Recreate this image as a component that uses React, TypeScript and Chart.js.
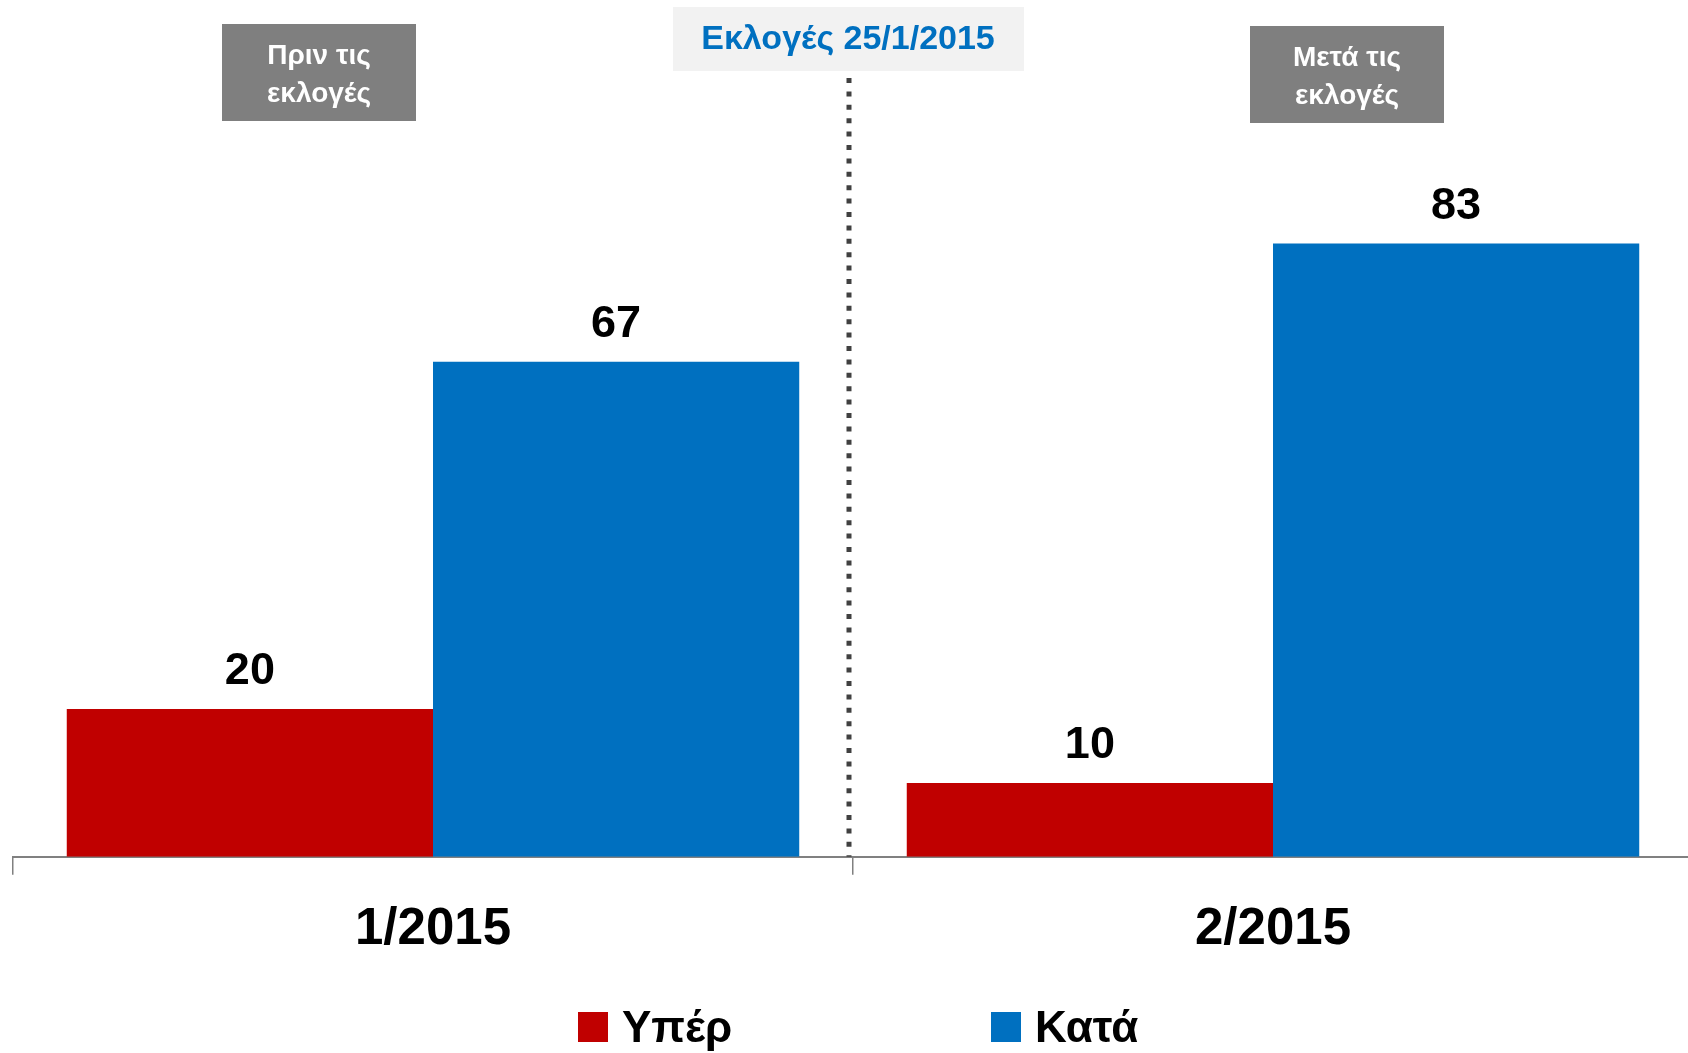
import React, { useEffect, useRef } from "react";
import { Chart, registerables } from "chart.js";

Chart.register(...registerables);

const categories = ["1/2015", "2/2015"];
const seriesNames = ["Υπέρ", "Κατά"];
const forValues = [20, 10];
const againstValues = [67, 83];
const seriesColors = ["#C00000", "#0070C0"];
const electionLabel = "Εκλογές 25/1/2015";
const beforeLabel = ["Πριν τις", "εκλογές"];
const afterLabel = ["Μετά τις", "εκλογές"];

const FONT = "'Liberation Sans', Arial, sans-serif";

const overlayPlugin = {
  id: "overlay",
  afterDatasetsDraw(chart: any) {
    const ctx = chart.ctx as CanvasRenderingContext2D;
    ctx.save();

    // value labels above bars
    ctx.font = `bold 45px ${FONT}`;
    ctx.fillStyle = "#000";
    ctx.textAlign = "center";
    ctx.textBaseline = "alphabetic";
    chart.data.datasets.forEach((ds: any, i: number) => {
      chart.getDatasetMeta(i).data.forEach((bar: any, j: number) => {
        ctx.fillText(String(ds.data[j]), bar.x, bar.y - 25);
      });
    });

    // dotted separator
    const xs = chart.scales.x;
    const sep = (xs.getPixelForValue(0) + xs.getPixelForValue(1)) / 2 - 4;
    ctx.strokeStyle = "#404040";
    ctx.lineWidth = 5;
    ctx.setLineDash([5, 8.4]);
    ctx.beginPath();
    ctx.moveTo(sep, 78);
    ctx.lineTo(sep, chart.chartArea.bottom);
    ctx.stroke();
    ctx.setLineDash([]);

    // election box
    ctx.fillStyle = "#F2F2F2";
    ctx.fillRect(673, 7, 351, 64);
    ctx.fillStyle = "#0070C0";
    ctx.font = `bold 34px ${FONT}`;
    ctx.textBaseline = "middle";
    ctx.fillText(electionLabel, 848, 40);

    // before / after boxes
    const drawBox = (x: number, y: number, lines: string[]) => {
      ctx.fillStyle = "#7F7F7F";
      ctx.fillRect(x, y, 194, 97);
      ctx.fillStyle = "#FFFFFF";
      ctx.font = `bold 28px ${FONT}`;
      ctx.textBaseline = "middle";
      ctx.fillText(lines[0], x + 97, y + 32);
      ctx.fillText(lines[1], x + 97, y + 70);
    };
    drawBox(222, 24, beforeLabel);
    drawBox(1250, 26, afterLabel);

    // legend
    ctx.textAlign = "left";
    ctx.textBaseline = "alphabetic";
    ctx.font = `bold 44px ${FONT}`;
    const legendX = [578, 991];
    seriesNames.forEach((name, i) => {
      ctx.fillStyle = seriesColors[i];
      ctx.fillRect(legendX[i], 1012, 30, 30);
      ctx.fillStyle = "#000";
      ctx.fillText(name, legendX[i] + 44, 1042);
    });

    ctx.restore();
  },
};

export default function App() {
  const ref = useRef<HTMLCanvasElement>(null);
  useEffect(() => {
    document.body.style.margin = "0";
    const chart = new Chart(ref.current as HTMLCanvasElement, {
      type: "bar",
      data: {
        labels: categories,
        datasets: [
          { label: seriesNames[0], data: forValues, backgroundColor: seriesColors[0] },
          { label: seriesNames[1], data: againstValues, backgroundColor: seriesColors[1] },
        ],
      },
      options: {
        animation: false,
        responsive: false,
        devicePixelRatio: 1,
        layout: { padding: { top: 118, bottom: 67, left: 13, right: 0 } },
        datasets: { bar: { categoryPercentage: 0.872, barPercentage: 1 } },
        plugins: { legend: { display: false }, tooltip: { enabled: false } },
        scales: {
          x: {
            grid: {
              display: true,
              drawOnChartArea: false,
              drawTicks: true,
              tickLength: 18,
              color: "#808080",
              lineWidth: 1.5,
              offset: true,
            },
            border: { display: true, color: "#808080", width: 2 },
            ticks: {
              font: { family: FONT, size: 51, weight: "bold" },
              color: "#000",
              padding: 25,
            },
          },
          y: { display: false, min: 0, max: 100 },
        },
      } as any,
      plugins: [overlayPlugin],
    });
    return () => chart.destroy();
  }, []);
  return (
    <div
      style={{
        position: "fixed",
        left: 0,
        top: 0,
        width: 1688,
        height: 1053,
        overflow: "hidden",
        background: "#fff",
      }}
    >
      <canvas ref={ref} width={1693} height={1053} style={{ display: "block", width: 1693, height: 1053 }} />
    </div>
  );
}
